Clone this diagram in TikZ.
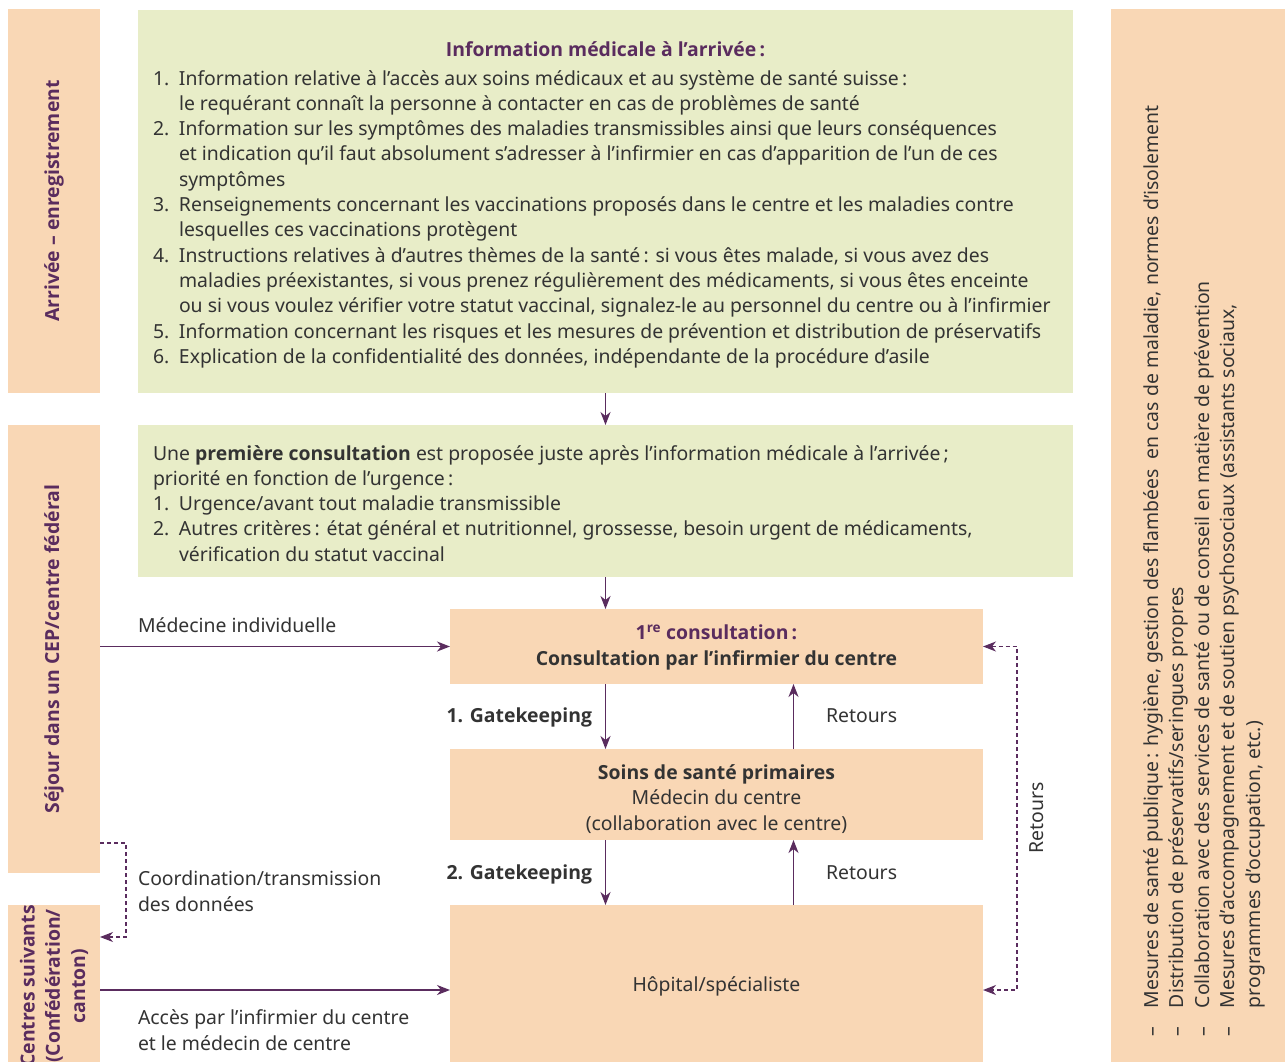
\documentclass[tikz,border=0pt]{standalone}
\usepackage{fontspec}
\setmainfont{Noto Sans}[BoldFont={Open Sans Bold}]
\usetikzlibrary{arrows.meta}
\definecolor{peach}{HTML}{F9D7B5}
\definecolor{leaf}{HTML}{E8EDC8}
\definecolor{plum}{HTML}{5A2C5E}
\definecolor{ink}{HTML}{333333}
\newcommand\fs{\fontsize{19.4}{25.3}\selectfont}
\newcommand\ind{\hspace*{26pt}}
\newcommand\num[1]{\makebox[26pt][l]{#1}}
\begin{document}
\begin{tikzpicture}[x=1pt,y=-1pt,
  every node/.style={inner sep=0pt,outer sep=0pt,text=ink,font=\fs},
  pbox/.style={fill=peach,anchor=north west},
  gbox/.style={fill=leaf,anchor=north west},
  vlab/.style={rotate=90,text=plum,font=\fs\bfseries,align=center},
  arr/.style={draw=plum,line width=1.3pt,-{Stealth[length=13pt,width=10pt,inset=4pt]}},
  darr/.style={draw=plum,line width=1.1pt,dash pattern=on 4pt off 3pt},
  tip/.style={-{Stealth[length=13pt,width=10pt,inset=4pt]}},
  tips/.style={{Stealth[length=13pt,width=10pt,inset=4pt]}-{Stealth[length=13pt,width=10pt,inset=4pt]}}
]
\clip (0,0) rectangle (1285,1061);
\useasboundingbox (0,0) rectangle (1285,1061);
\fill[white] (0,0) rectangle (1285,1061);
% boxes
\node[pbox,minimum width=92,minimum height=384] (lc1) at (8,9) {};
\node[pbox,minimum width=92,minimum height=448] (lc2) at (8,425) {};
\node[pbox,minimum width=92,minimum height=170] (lc3) at (8,905) {};
\node[gbox,minimum width=935,minimum height=383] (g1) at (138,10) {};
\node[gbox,minimum width=935,minimum height=152] (g2) at (138,425) {};
\node[pbox,minimum width=533,minimum height=75] (c1) at (450,609) {};
\node[pbox,minimum width=533,minimum height=91] (c2) at (450,749) {};
\node[pbox,minimum width=533,minimum height=170] (c3) at (450,905) {};
\node[pbox,minimum width=180,minimum height=1060] (rp) at (1111,9) {};
% vertical labels
\node[vlab] (l1) at (lc1.center) {Arrivée – enregistrement};
\node[vlab] (l2) at (lc2.center) {Séjour dans un CEP/centre fédéral};
\node[vlab] (l3) at (54,986) {Centres suivants\\(Confédération/\\canton)};
% green box 1
\node[anchor=base,text=plum,font=\fs\bfseries] (t1) at (605.5,56) {Information médicale à l’arrivée\,:};
\node[anchor=base west,align=left] (t1list) at (153,363.3) {%
\num{1.}Information relative à l’accès aux soins médicaux et au système de santé suisse\,:\\
\ind le requérant connaît la personne à contacter en cas de problèmes de santé\\
\num{2.}Information sur les symptômes des maladies transmissibles ainsi que leurs conséquences\\
\ind et indication qu’il faut absolument s’adresser à l’infirmier en cas d’apparition de l’un de ces\\
\ind symptômes\\
\num{3.}Renseignements concernant les vaccinations proposés dans le centre et les maladies contre\\
\ind lesquelles ces vaccinations protègent\\
\num{4.}Instructions relatives à d’autres thèmes de la santé\,: si vous êtes malade, si vous avez des\\
\ind maladies préexistantes, si vous prenez régulièrement des médicaments, si vous êtes enceinte\\
\ind ou si vous voulez vérifier votre statut vaccinal, signalez-le au personnel du centre ou à l’infirmier\\
\num{5.}Information concernant les risques et les mesures de prévention et distribution de préservatifs\\
\num{6.}Explication de la confidentialité des données, indépendante de la procédure d’asile};
% green box 2
\node[anchor=base west,align=left] (t2) at (153,561.2) {%
Une \textbf{première consultation} est proposée juste après l’information médicale à l’arrivée\,;\\
priorité en fonction de l’urgence\,:\\
\num{1.}Urgence/avant tout maladie transmissible\\
\num{2.}Autres critères\,: état général et nutritionnel, grossesse, besoin urgent de médicaments,\\
\ind vérification du statut vaccinal};
% center boxes text
\node[anchor=base,align=center,font=\fs\bfseries] (tc1) at (716.5,665) {%
\textcolor{plum}{1\textsuperscript{re} consultation\,:}\\Consultation par l’infirmier du centre};
\node[anchor=base,align=center] (tc2) at (716.5,830) {%
\textbf{Soins de santé primaires}\\Médecin du centre\\(collaboration avec le centre)};
\node[anchor=base] (tc3) at (716.5,991) {Hôpital/spécialiste};
% right panel
\node[rotate=90,anchor=base west,align=left,font=\fontsize{19.4}{25.5}\selectfont] (tr) at (1260,1036) {%
\makebox[28pt][l]{–}Mesures de santé publique\,: hygiène, gestion des flambées \ en cas de maladie, normes d’isolement\\
\makebox[28pt][l]{–}Distribution de préservatifs/seringues propres\\
\makebox[28pt][l]{–}Collaboration avec des services de santé ou de conseil en matière de prévention\\
\makebox[28pt][l]{–}Mesures d’accompagnement et de soutien psychosociaux (assistants sociaux,\\
\hspace*{28pt}programmes d’occupation, etc.)};
% connectors
\draw[arr] (g1.south) -- (g2.north);
\draw[arr] (g2.south) -- (g2.south |- c1.north);
\draw[arr] ([xshift=-111pt]c1.south) -- ([xshift=-111pt]c2.north);
\draw[arr] ([xshift=77pt]c1.south |- c2.north) -- ([xshift=77pt]c1.south);
\draw[arr] ([xshift=-111pt]c2.south) -- ([xshift=-111pt]c3.north);
\draw[arr] ([xshift=77pt]c2.south |- c3.north) -- ([xshift=77pt]c2.south);
\draw[arr] (lc2.east |- c1.west) -- (c1.west);
\draw[arr] (lc3.east) -- (c3.west);
\draw[darr,tips] (c1.east) -- ++(34,0) |- (c3.east);
\draw[darr,tip] ([yshift=30pt]lc2.south east) -- ++(26,0) |- ([yshift=-32pt]lc3.north east);
% connector labels
\node[anchor=base west] (m1) at (138,632) {Médecine individuelle};
\node[anchor=base east,font=\fs\bfseries] (gk1) at (592,722) {1. Gatekeeping};
\node[anchor=base west] (r1) at (826,722) {Retours};
\node[anchor=base east,font=\fs\bfseries] (gk2) at (592,879) {2. Gatekeeping};
\node[anchor=base west] (r2) at (826,879) {Retours};
\node[rotate=90] (r3) at (1037,818) {Retours};
\node[anchor=base west,align=left] (co) at (138,911) {Coordination/transmission\\des données};
\node[anchor=base west,align=left] (ac) at (138,1050) {Accès par l’infirmier du centre\\et le médecin de centre};
\end{tikzpicture}
\end{document}
